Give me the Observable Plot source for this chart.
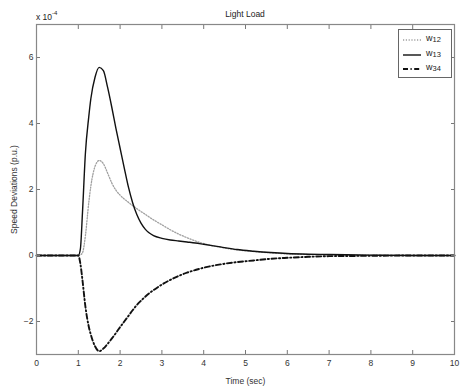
<!DOCTYPE html>
<html>
<head>
<meta charset="utf-8">
<script src="https://cdn.jsdelivr.net/npm/d3@7"></script>
<script src="https://cdn.jsdelivr.net/npm/@observablehq/plot@0.6"></script>
<style>
  html, body { margin: 0; padding: 0; background: #fff; }
  #wrap { position: relative; width: 460px; height: 387px; font-family: "Liberation Sans", Arial, sans-serif; color: #222; }
  #title { position: absolute; left: 36px; width: 418px; top: 9px; text-align: center; font-size: 8.5px; }
  #expo { position: absolute; left: 36px; top: 11px; font-size: 8.5px; }
  #expo sup { font-size: 6px; position: relative; top: -1px; }
  #legend { position: absolute; left: 398px; top: 29px; width: 52px; height: 47px; border: 1px solid #666; background: #fff; font-size: 9px; }
  .row { position: absolute; left: 0; height: 14px; width: 52px; }
  .row svg { position: absolute; left: 4px; top: 3px; }
  .row span { position: absolute; left: 27px; top: 0px; }
  .row sub { font-size: 7.5px; position: relative; top: 1px; vertical-align: baseline; }
</style>
</head>
<body>
<div id="wrap">
  <div id="chart"></div>
  <div id="title"></div>
  <div id="expo">x 10<sup>-4</sup></div>
  <div id="legend"></div>
</div>
<script>
// Time (sec)
const time = [0, 1.0, 1.05, 1.1, 1.17, 1.25, 1.3, 1.4, 1.5, 1.6, 1.7, 1.8, 1.9, 2.0, 2.1, 2.2, 2.3, 2.4, 2.5, 2.6, 2.7, 2.8, 3.0, 3.2, 3.4, 3.6, 3.8, 4.0, 4.4, 4.8, 5.2, 5.6, 6.0, 6.5, 7.0, 8.0, 9.0, 10.0];
// Speed deviations (x 1e-4 p.u.)
const w12 = [0, 0, 0.02, 0.08, 0.6, 1.6, 2.1, 2.7, 2.88, 2.78, 2.5, 2.2, 1.98, 1.83, 1.71, 1.61, 1.51, 1.42, 1.33, 1.25, 1.16, 1.08, 0.93, 0.78, 0.65, 0.54, 0.44, 0.36, 0.25, 0.17, 0.12, 0.08, 0.05, 0.03, 0.02, 0.01, 0, 0];
const w13 = [0, 0, 0.2, 1.3, 3.1, 4.2, 4.75, 5.4, 5.7, 5.6, 5.1, 4.5, 3.85, 3.25, 2.65, 2.07, 1.6, 1.24, 0.98, 0.8, 0.68, 0.6, 0.52, 0.47, 0.44, 0.41, 0.38, 0.34, 0.26, 0.18, 0.13, 0.09, 0.06, 0.04, 0.03, 0.01, 0, 0];
const w34 = [0, 0, -0.25, -0.75, -1.55, -2.15, -2.4, -2.75, -2.9, -2.82, -2.68, -2.52, -2.35, -2.17, -2.0, -1.83, -1.66, -1.5, -1.37, -1.25, -1.14, -1.05, -0.88, -0.74, -0.62, -0.52, -0.44, -0.37, -0.27, -0.2, -0.15, -0.1, -0.07, -0.04, -0.02, -0.01, 0, 0];

const seriesNames = ["w12", "w13", "w34"];
const seriesSubs = ["12", "13", "34"];
const xTicks = [0, 1, 2, 3, 4, 5, 6, 7, 8, 9, 10];
const yTicks = [-2, 0, 2, 4, 6];
const titleText = "Light Load";
const xLabel = "Time (sec)";
const yLabel = "Speed Deviations (p.u.)";

const styles = {
  w12: {stroke: "#a0a0a0", strokeWidth: 1.3, strokeDasharray: "1.2,1.6"},
  w13: {stroke: "#111", strokeWidth: 1.4, strokeDasharray: null},
  w34: {stroke: "#111", strokeWidth: 1.9, strokeDasharray: "5,2.5,1.2,2.5"}
};

const valuesBy = {w12, w13, w34};
const rows = seriesNames.flatMap(s => time.map((t, i) => ({s, t, v: valuesBy[s][i]})));

const chart = Plot.plot({
  width: 460,
  height: 387,
  marginLeft: 36,
  marginRight: 6,
  marginTop: 24,
  marginBottom: 33,
  style: {fontFamily: "Liberation Sans, Arial, sans-serif", fontSize: "8.5px", color: "#333", background: "#fff"},
  x: {domain: [0, 10]},
  y: {domain: [-3, 7]},
  marks: [
    ...seriesNames.map(s => Plot.line(rows.filter(d => d.s === s), {x: "t", y: "v", curve: "monotone-x", ...styles[s]})),
    Plot.axisX({anchor: "bottom", ticks: xTicks, tickSize: -4, tickPadding: 9, stroke: "#777", label: xLabel, labelAnchor: "center", labelOffset: 29, labelArrow: "none"}),
    Plot.axisX({anchor: "top", ticks: xTicks.slice(1, -1), tickSize: -4, tickFormat: () => "", stroke: "#777", label: null}),
    Plot.axisY({anchor: "left", ticks: yTicks, tickSize: -4, tickPadding: 7, stroke: "#777", label: yLabel, labelAnchor: "center", labelOffset: 26, labelArrow: "none"}),
    Plot.axisY({anchor: "right", ticks: yTicks, tickSize: -4, tickFormat: () => "", stroke: "#777", label: null}),
    Plot.frame({stroke: "#888", strokeWidth: 1.2})
  ]
});
document.getElementById("chart").appendChild(chart);
document.getElementById("title").textContent = titleText;

const legend = document.getElementById("legend");
seriesNames.forEach((s, i) => {
  const st = styles[s];
  const row = document.createElement("div");
  row.className = "row";
  row.style.top = (3 + i * 14.5) + "px";
  row.innerHTML = `<svg width="19" height="8"><line x1="0" x2="18" y1="4" y2="4" stroke="${st.stroke}" stroke-width="${st.strokeWidth}" ${st.strokeDasharray ? `stroke-dasharray="${st.strokeDasharray}"` : ""}/></svg><span>w<sub>${seriesSubs[i]}</sub></span>`;
  legend.appendChild(row);
});
</script>
</body>
</html>
